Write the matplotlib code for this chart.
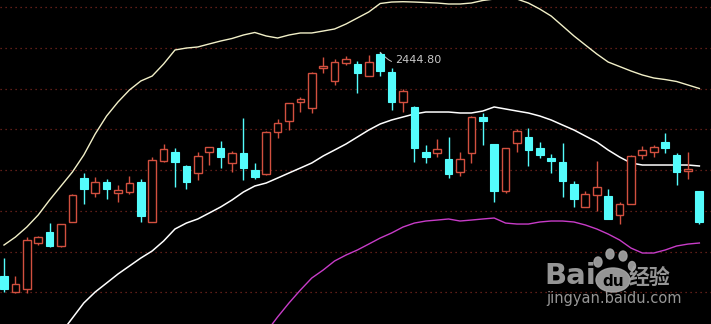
import matplotlib
matplotlib.use('Agg')
import matplotlib.pyplot as plt
from matplotlib.patches import Rectangle, Ellipse
import numpy as np

plt.rcParams['font.family'] = ['Noto Sans CJK SC', 'DejaVu Sans']

# daily OHLC (index = trading day)
opens = [2169.9, 2150.6, 2154.3, 2210.8, 2223.6, 2207.2, 2235.9, 2290.0, 2271.5, 2285.8,
         2271.5, 2273.5, 2285.4, 2235.9, 2311.2, 2322.3, 2305.1, 2296.5, 2321.9, 2326.8,
         2308.4, 2320.7, 2300.2, 2294.9, 2347.2, 2360.7, 2383.3, 2376.7, 2425.8, 2409.9,
         2432.0, 2430.0, 2416.0, 2442.7, 2420.5, 2383.7, 2378.0, 2322.6, 2320.7, 2313.3,
         2297.3, 2321.4, 2365.6, 2332.1, 2274.4, 2333.0, 2341.1, 2327.5, 2314.9, 2309.6,
         2283.0, 2255.1, 2269.1, 2268.2, 2244.9, 2258.0, 2318.0, 2321.9, 2334.2, 2318.6,
         2299.3, 2274.4]
highs = [2192.0, 2169.9, 2218.2, 2219.1, 2234.7, 2233.8, 2270.1, 2296.1, 2291.9, 2288.7,
         2281.7, 2292.8, 2289.5, 2315.8, 2331.7, 2326.8, 2305.9, 2322.6, 2329.0, 2335.4,
         2323.9, 2363.7, 2308.4, 2347.5, 2363.2, 2382.5, 2390.2, 2420.9, 2438.6, 2436.2,
         2440.2, 2434.1, 2441.4, 2444.8, 2425.8, 2399.3, 2378.2, 2330.9, 2337.9, 2341.1,
         2322.6, 2365.9, 2369.8, 2332.7, 2327.2, 2350.2, 2351.4, 2334.2, 2319.8, 2333.0,
         2286.6, 2274.7, 2311.2, 2276.4, 2261.2, 2318.0, 2329.6, 2330.9, 2345.2, 2320.7,
         2322.3, 2274.6]
lows = [2150.6, 2149.4, 2148.7, 2207.7, 2205.9, 2205.2, 2235.7, 2258.4, 2267.4, 2264.2,
        2261.2, 2270.3, 2236.6, 2235.7, 2309.6, 2279.6, 2277.2, 2287.9, 2305.9, 2302.2,
        2298.1, 2287.9, 2289.1, 2294.6, 2339.1, 2349.3, 2371.8, 2370.5, 2419.7, 2404.2,
        2428.8, 2395.1, 2415.6, 2415.6, 2373.9, 2371.8, 2310.4, 2308.4, 2315.8, 2290.7,
        2293.2, 2309.1, 2330.9, 2260.5, 2271.5, 2322.6, 2305.4, 2315.3, 2296.8, 2266.6,
        2254.3, 2254.3, 2250.2, 2240.0, 2233.5, 2257.8, 2313.4, 2315.8, 2320.7, 2282.1,
        2289.5, 2234.4]
closes = [2154.3, 2160.1, 2214.2, 2218.2, 2206.8, 2233.4, 2269.1, 2276.8, 2285.0, 2277.2,
          2275.6, 2283.8, 2244.0, 2312.1, 2325.6, 2310.0, 2285.8, 2317.0, 2328.0, 2315.8,
          2320.7, 2303.0, 2291.9, 2346.5, 2358.3, 2382.1, 2387.4, 2419.7, 2427.9, 2432.5,
          2436.2, 2419.7, 2432.5, 2422.1, 2384.1, 2397.2, 2326.8, 2315.8, 2325.6, 2294.9,
          2313.3, 2364.9, 2360.7, 2274.4, 2326.8, 2348.1, 2324.7, 2318.6, 2311.2, 2287.0,
          2264.5, 2270.7, 2278.9, 2240.3, 2258.0, 2317.4, 2324.4, 2328.8, 2327.8, 2298.1,
          2301.4, 2236.6]

# Bollinger bands (NaN where the line is off the chart)
nan = np.nan
boll_upper = [2208.0, 2217.8, 2230.1, 2244.9, 2263.3, 2280.5, 2297.7, 2318.6, 2344.4, 2366.5,
              2383.7, 2398.4, 2409.5, 2415.6, 2430.4, 2447.6, 2450.0, 2451.3, 2455.0, 2458.6,
              2461.7, 2466.0, 2469.1, 2464.8, 2462.3, 2466.0, 2468.5, 2468.5, 2470.9, 2473.4,
              2479.5, 2486.9, 2494.3, 2504.7, 2506.5, 2506.9, 2506.5, 2505.9, 2505.3, 2504.1,
              2504.1, 2505.3, 2508.4, 2510.2, 2511.5, 2510.2, 2505.3, 2497.9, 2489.3, 2477.1,
              2464.8, 2453.7, 2442.7, 2432.8, 2427.3, 2421.8, 2416.9, 2413.2, 2411.3, 2408.9,
              2404.6, 2400.3]
boll_mid = [nan, nan, nan, nan, nan, 2099.9, 2118.3, 2136.8, 2150.3, 2161.3,
            2172.4, 2182.2, 2192.0, 2200.7, 2212.9, 2227.7, 2235.0, 2240.0, 2247.3, 2254.7,
            2263.3, 2273.1, 2280.5, 2284.2, 2290.3, 2296.5, 2302.6, 2308.8, 2317.4, 2324.7,
            2332.1, 2340.7, 2349.3, 2356.7, 2361.6, 2365.3, 2369.0, 2371.4, 2371.4, 2371.4,
            2370.2, 2370.2, 2372.6, 2377.6, 2375.1, 2372.6, 2370.2, 2366.5, 2361.6, 2355.4,
            2349.3, 2341.9, 2334.6, 2324.7, 2316.1, 2308.8, 2306.3, 2306.3, 2306.3, 2306.3,
            2306.3, 2305.1]
boll_lower = [nan] * 23 + [
    2101.1, 2119.6, 2136.8, 2152.7, 2167.5, 2177.3, 2188.4,
    2195.7, 2201.9, 2209.2, 2216.6, 2222.8, 2230.1, 2235.0, 2237.5, 2238.7, 2240.0,
    2237.5, 2238.7, 2240.0, 2241.2, 2235.0, 2233.8, 2233.8, 2236.3, 2237.5, 2237.5,
    2236.3, 2232.6, 2227.7, 2221.5, 2214.2, 2204.3, 2198.2, 2198.2, 2201.9, 2206.8,
    2209.2, 2210.5]

grid_levels = [2150, 2200, 2250, 2300, 2350, 2400, 2450, 2500]
peak_label = '2444.80'

UP = '#d2503f'
DOWN = '#54fcfc'

fig = plt.figure(figsize=(7.11, 3.24), dpi=100, facecolor='black')
ax = fig.add_axes([0, 0, 1, 1], facecolor='black')

for lv in grid_levels:
    ax.axhline(lv, color='#7e2820', lw=0.9, ls=(0, (1, 3)), zorder=1)

x = np.arange(len(opens))
ax.plot(x, boll_upper, color='#f2f0c8', lw=1.0, zorder=2)
ax.plot(x, boll_mid, color='white', lw=1.1, zorder=2)
ax.plot(x, boll_lower, color='#c83cc8', lw=1.0, zorder=2)

w = 0.68
for i, (o, h, l, c) in enumerate(zip(opens, highs, lows, closes)):
    if c >= o:
        ax.vlines(i, l, h, color=UP, lw=1.0, zorder=3)
        ax.add_patch(Rectangle((i - w / 2, o), w, max(c - o, 0.6), facecolor='black',
                               edgecolor=UP, lw=1.0, zorder=4))
    else:
        ax.vlines(i, l, h, color=DOWN, lw=1.0, zorder=3)
        ax.add_patch(Rectangle((i - w / 2, c), w, o - c, facecolor=DOWN,
                               edgecolor=DOWN, lw=0.8, zorder=4))

# high-point label
peak = int(np.argmax(highs))
ax.annotate(peak_label, xy=(peak, highs[peak]), xytext=(peak + 1.35, highs[peak] - 9),
            color='#c8c8c8', fontsize=8, va='center', ha='left', family='DejaVu Sans',
            arrowprops=dict(arrowstyle='-', color='#c8c8c8', lw=0.7,
                            connectionstyle='arc3,rad=-0.4', shrinkA=1, shrinkB=0))

ax.set_xlim(-0.35, 62.02)
ax.set_ylim(2111.0, 2509.0)
ax.axis('off')

# watermark
wm = '#a6a6a6'
fig.text(544 / 711, 1 - 276 / 324, 'Bai', color=wm, fontsize=21, fontweight='bold',
         family='DejaVu Sans', va='center', ha='left', alpha=0.9)
for cx, cy, rw, rh in [(598, 262, 8, 10), (610, 254, 8, 10), (623, 256, 8, 10), (632, 266, 7, 9)]:
    fig.patches.append(Ellipse((cx / 711, 1 - cy / 324), rw / 711, rh / 324,
                               transform=fig.transFigure, color=wm, alpha=0.9))
fig.patches.append(Ellipse((613 / 711, 1 - 280 / 324), 34 / 711, 24 / 324,
                           transform=fig.transFigure, color=wm, alpha=0.9))
fig.text(613 / 711, 1 - 281 / 324, 'du', color='black', fontsize=11, fontweight='bold',
         family='DejaVu Sans', va='center', ha='center')
fig.text(629 / 711, 1 - 277 / 324, '经验', color=wm, fontsize=15, fontweight='bold',
         va='center', ha='left', alpha=0.9)
fig.text(546 / 711, 1 - 299 / 324, 'jingyan.baidu.com', color=wm, fontsize=10.5,
         family='DejaVu Sans', va='center', ha='left', alpha=0.9)

fig.savefig('out.png', dpi=100, facecolor='black')
